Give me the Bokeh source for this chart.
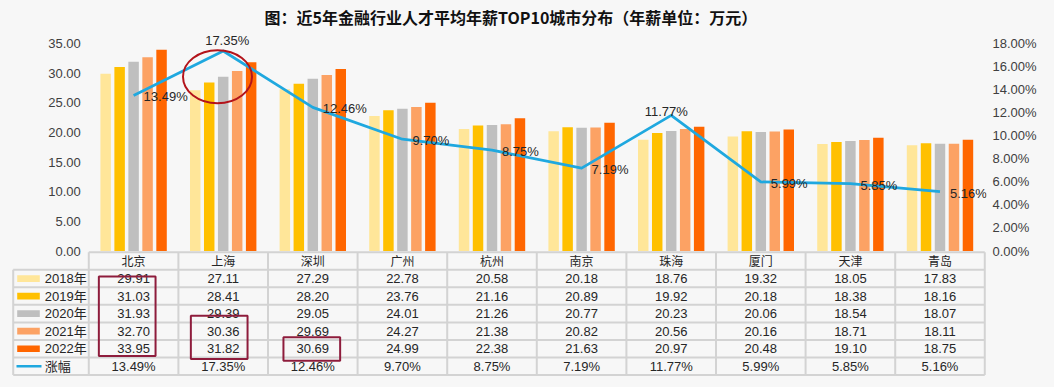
from bokeh.plotting import figure
from bokeh.models import (ColumnDataSource, Range1d, LinearAxis, FixedTicker, PrintfTickFormatter)
from bokeh.transform import dodge
from bokeh.core.properties import value
from bokeh.embed import file_html
from bokeh.resources import INLINE

# ---------------- data ----------------
cities = ["北京", "上海", "深圳", "广州", "杭州", "南京", "珠海", "厦门", "天津", "青岛"]
years = ["2018年", "2019年", "2020年", "2021年", "2022年"]
sal_2018 = [29.91, 27.11, 27.29, 22.78, 20.58, 20.18, 18.76, 19.32, 18.05, 17.83]
sal_2019 = [31.03, 28.41, 28.20, 23.76, 21.16, 20.89, 19.92, 20.18, 18.38, 18.16]
sal_2020 = [31.93, 29.39, 29.05, 24.01, 21.26, 20.77, 20.23, 20.06, 18.54, 18.07]
sal_2021 = [32.70, 30.36, 29.69, 24.27, 21.38, 20.82, 20.56, 20.16, 18.71, 18.11]
sal_2022 = [33.95, 31.82, 30.69, 24.99, 22.38, 21.63, 20.97, 20.48, 19.10, 18.75]
growth = [13.49, 17.35, 12.46, 9.70, 8.75, 7.19, 11.77, 5.99, 5.85, 5.16]
growth_name = "涨幅"
title_text = "图：近5年金融行业人才平均年薪TOP10城市分布（年薪单位：万元）"
left_ticks = [0, 5, 10, 15, 20, 25, 30, 35]
right_ticks = [0, 2, 4, 6, 8, 10, 12, 14, 16, 18]
series = [sal_2018, sal_2019, sal_2020, sal_2021, sal_2022]

# ---------------- styles / layout constants ----------------
BG = "#F7F7F7"
colors = ["#FFE699", "#FFC000", "#BFBFBF", "#FCA264", "#FF6600"]
LINE = "#1FA8DF"
GRID = "#D3D3D3"
TXT = "#262626"
AX = "#404040"
ELL = "#B3141B"
BOX = "#8E1C3C"
LAT = "Liberation Sans, Noto Sans CJK SC"
CJK = "Noto Sans CJK SC"
W, H = 1054, 387
FR_L, FR_R, FR_T, FR_B = 11, 986, 32, 377      # frame in px
COL0 = 88.3                                    # px of first city column's left edge
COL_PX = 89.6                                  # px per city column
LEG_PX = 75.6                                  # legend column width
ROW0 = 251.7                                   # px of table top
ROW_PX = 17.55                                 # px per table row
Y0 = 250.5                                     # px of value 0
Y_TOP = 43                                     # px of axis max
TITLE_LEFT = 264                               # px where the title starts
bar_offsets = [-0.312, -0.156, 0.0, 0.156, 0.312]
bar_width = 0.117
label_place = ["right", "above", "right", "right", "right", "right", "above", "right", "right", "right"]
above_dx = {1: 4, 6: -5}
above_dy = {1: -10.5, 6: -3.5}

n = len(cities)
ymax = left_ticks[-1]
pmax = right_ticks[-1]
x_lo = (FR_L - COL0) / COL_PX
x_hi = (FR_R - COL0) / COL_PX
vpx = (Y0 - Y_TOP) / ymax
ppx = (Y0 - Y_TOP) / pmax
y_lo = (Y0 - FR_B) / vpx
y_hi = (Y0 - FR_T) / vpx
p_lo = (Y0 - FR_B) / ppx
p_hi = (Y0 - FR_T) / ppx
t_top = (FR_T - ROW0) / ROW_PX
t_bot = (FR_B - ROW0) / ROW_PX

p = figure(width=W, height=H, x_range=Range1d(x_lo, x_hi), y_range=Range1d(y_lo, y_hi),
           x_axis_location=None, toolbar_location=None, output_backend="svg",
           min_border_left=FR_L, min_border_right=W - FR_R, min_border_top=FR_T,
           min_border_bottom=H - FR_B,
           background_fill_color=BG, border_fill_color=BG, outline_line_color=None,
           title=title_text)
p.title.align = "left"
p.title.vertical_align = "top"
p.title.offset = TITLE_LEFT - FR_L
p.title.text_font = CJK
p.title.text_font_size = "16px"
p.title.text_font_style = "bold"
p.title.text_color = "#111111"
p.title.standoff = 4
for g in p.grid:
    g.visible = False

p.extra_y_ranges = {"pct": Range1d(p_lo, p_hi), "tbl": Range1d(t_bot, t_top)}
ax_l = p.yaxis[0]
ax_l.fixed_location = 0
ax_l.ticker = FixedTicker(ticks=left_ticks)
ax_l.formatter = PrintfTickFormatter(format="%.2f")
ax_r = LinearAxis(y_range_name="pct", ticker=FixedTicker(ticks=right_ticks),
                  formatter=PrintfTickFormatter(format="%.2f%%"))
p.add_layout(ax_r, "right")
for ax in (ax_l, ax_r):
    ax.axis_line_color = None
    ax.major_tick_line_color = None
    ax.minor_tick_line_color = None
    ax.major_tick_in = 0
    ax.major_tick_out = 0
    ax.major_label_text_font = "Liberation Sans"
    ax.major_label_text_font_size = "13px"
    ax.major_label_text_color = AX
ax_l.major_label_standoff = 8
ax_r.major_label_standoff = 6

xc = [i + 0.5 for i in range(n)]
src = ColumnDataSource(dict(x=xc, s0=sal_2018, s1=sal_2019, s2=sal_2020,
                            s3=sal_2021, s4=sal_2022, g=growth))

for k in range(5):
    p.vbar(x=dodge("x", bar_offsets[k]), top="s%d" % k, bottom=0, width=bar_width,
           source=src, fill_color=colors[k], line_color=None)

p.line(x="x", y="g", source=src, y_range_name="pct", line_color=LINE,
       line_width=2.75, line_join="round")

ri = [i for i, pl in enumerate(label_place) if pl == "right"]
ai = [i for i, pl in enumerate(label_place) if pl == "above"]
src_r = ColumnDataSource(dict(x=[xc[i] for i in ri], g=[growth[i] for i in ri],
                              t=["%.2f%%" % growth[i] for i in ri]))
src_a = ColumnDataSource(dict(x=[xc[i] for i in ai], g=[growth[i] for i in ai],
                              t=["%.2f%%" % growth[i] for i in ai],
                              dx=[above_dx[i] for i in ai], dy=[above_dy[i] for i in ai]))
p.text(x="x", y="g", text="t", source=src_r, y_range_name="pct", x_offset=10, y_offset=1.5,
       text_align="left", text_baseline="middle", text_font=value("Liberation Sans"),
       text_font_size="13px", text_color=TXT)
p.text(x="x", y="g", text="t", source=src_a, y_range_name="pct", x_offset="dx", y_offset="dy",
       text_align="center", text_baseline="middle", text_font=value("Liberation Sans"),
       text_font_size="13px", text_color=TXT)

# red ellipse around Shanghai's peak
hi_i = cities.index("上海")
p.ellipse(x=[xc[hi_i] - 5.7 / COL_PX], y=[sal_2020[hi_i]],
          width=69, height=53, width_units="screen", height_units="screen",
          fill_color=None, line_color=ELL, line_width=2)

# ---------------- data table ----------------
L = LEG_PX / COL_PX
nrows = 2 + len(years)
hx0 = [0] + [-L] * nrows
hx1 = [n] * (nrows + 1)
hy = list(range(nrows + 1))
vx = [-L] + list(range(n + 1))
vy0 = [1] + [0] * (n + 1)
vy1 = [nrows] * (n + 2)
p.segment(x0=hx0, x1=hx1, y0=hy, y1=hy, y_range_name="tbl", line_color=GRID, line_width=2)
p.segment(x0=vx, x1=vx, y0=vy0, y1=vy1, y_range_name="tbl", line_color=GRID, line_width=2)

p.text(x=xc, y=[0.5] * n, text=cities, y_range_name="tbl", text_align="center",
       text_baseline="middle", text_font=value(CJK), text_font_size="12px", text_color=TXT)
for r, vals in enumerate(series):
    p.text(x=xc, y=[r + 1.5] * n, text=["%.2f" % v for v in vals], y_range_name="tbl",
           text_align="center", text_baseline="middle", text_font=value("Liberation Sans"),
           text_font_size="13px", text_color=TXT)
p.text(x=xc, y=[nrows - 0.5] * n, text=["%.2f%%" % v for v in growth], y_range_name="tbl",
       text_align="center", text_baseline="middle", text_font=value("Liberation Sans"),
       text_font_size="13px", text_color=TXT)

row_y = [r + 1.5 for r in range(len(years))]
p.rect(x=[-L + 15.3 / COL_PX] * len(years), y=row_y, width=22.6, height=6.7, y_range_name="tbl",
       width_units="screen", height_units="screen", fill_color=colors, line_color=None)
p.rect(x=[-L + 15.8 / COL_PX], y=[nrows - 0.5], width=25, height=2.5, y_range_name="tbl",
       width_units="screen", height_units="screen", fill_color=LINE, line_color=None)
p.text(x=[-L] * (len(years) + 1), y=row_y + [nrows - 0.5], text=years + [growth_name],
       y_range_name="tbl", x_offset=31.6, text_align="left", text_baseline="middle",
       text_font=value(LAT), text_font_size="13px", text_color=TXT)

# red highlight boxes in table (city, top row, bottom row, x shift px)
boxes = [("北京", 1.39, 5.92, -6.4), ("上海", 3.62, 6.08, -4.0), ("深圳", 4.85, 6.19, -1.0)]
bw = 56.7 / COL_PX
bl, br, bt, bb = [], [], [], []
for c, t, b, sh in boxes:
    cx = xc[cities.index(c)] + sh / COL_PX
    bl.append(cx - bw / 2)
    br.append(cx + bw / 2)
    bt.append(t)
    bb.append(b)
p.quad(left=bl, right=br, top=bt, bottom=bb, y_range_name="tbl",
       fill_color=None, line_color=BOX, line_width=2)

try:
    from bokeh.models import GlobalInlineStyleSheet
    p.stylesheets = [GlobalInlineStyleSheet(css="body { background: %s; }" % BG)]
except Exception:
    pass

open("out.html", "w").write(file_html(p, INLINE))
